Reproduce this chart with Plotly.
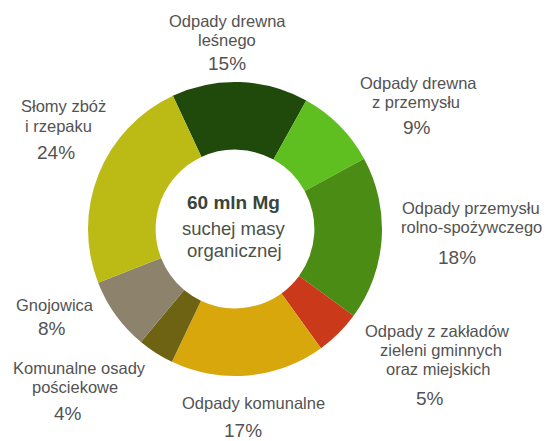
import plotly.graph_objects as go

W, H = 548, 441

# Biomass sources, clockwise from the top
categories = [
    "Odpady drewna<br>leśnego",
    "Odpady drewna<br>z przemysłu",
    "Odpady przemysłu<br>rolno-spożywczego",
    "Odpady z zakładów<br>zieleni gminnych<br>oraz miejskich",
    "Odpady komunalne",
    "Komunalne osady<br>pościekowe",
    "Gnojowica",
    "Słomy zbóż<br>i rzepaku",
]
shares = [15, 9, 18, 5, 17, 4, 8, 24]
colors = ["#1f4a0b", "#5fbf20", "#4b8c14", "#c9391a",
          "#d8a70c", "#6d6313", "#8d836c", "#bcbb16"]

# label placement in pixels: centre x and centre y for each name line,
# then centre x / y of the percentage
label_pos = [
    ([227, 227], [21, 40], (227, 64)),
    ([418, 416], [83, 102], (417, 128)),
    ([471, 471], [208, 227], (457, 257)),
    ([437, 441, 438], [331, 350, 369], (430, 398)),
    ([253], [403], (243, 430)),
    ([79, 75], [368, 387], (68, 413)),
    ([55], [305], (52, 328)),
    ([63, 58], [106, 126], (56, 152)),
]

cx, cy, r = 235, 229, 147

fig = go.Figure(go.Pie(
    values=shares,
    labels=[c.replace("<br>", " ") for c in categories],
    marker=dict(colors=colors, line=dict(width=0)),
    hole=0.54,
    sort=False,
    direction="clockwise",
    rotation=-25,
    textinfo="none",
    hoverinfo="label+percent",
    showlegend=False,
    domain=dict(x=[(cx - r) / W, (cx + r) / W],
                y=[(H - cy - r) / H, (H - cy + r) / H]),
))

font = "Liberation Sans, Arial, sans-serif"
grey = "#535353"


def px_note(x, y, text, size, color=grey):
    return dict(x=x / W, y=1 - y / H, xref="paper", yref="paper",
                text=text, showarrow=False, xanchor="center", yanchor="middle",
                borderpad=0,
                font=dict(family=font, size=size, color=color))


ann = []
for name, v, (xs, ys, (xp, yp)) in zip(categories, shares, label_pos):
    for line, x, y in zip(name.split("<br>"), xs, ys):
        ann.append(px_note(x, y, line, 16.5))
    ann.append(px_note(xp, yp, f"{v}%", 19))

# centre caption
ann.append(px_note(233, 203, "<b>60 mln Mg</b>", 19, "#3a443a"))
ann.append(px_note(234, 229, "suchej masy", 18.5, "#4a524a"))
ann.append(px_note(234, 250, "organicznej", 18.5, "#4a524a"))

fig.update_layout(
    width=W, height=H,
    margin=dict(l=0, r=0, t=0, b=0),
    paper_bgcolor="white", plot_bgcolor="white",
    annotations=ann,
)

fig.write_html("out.html")
